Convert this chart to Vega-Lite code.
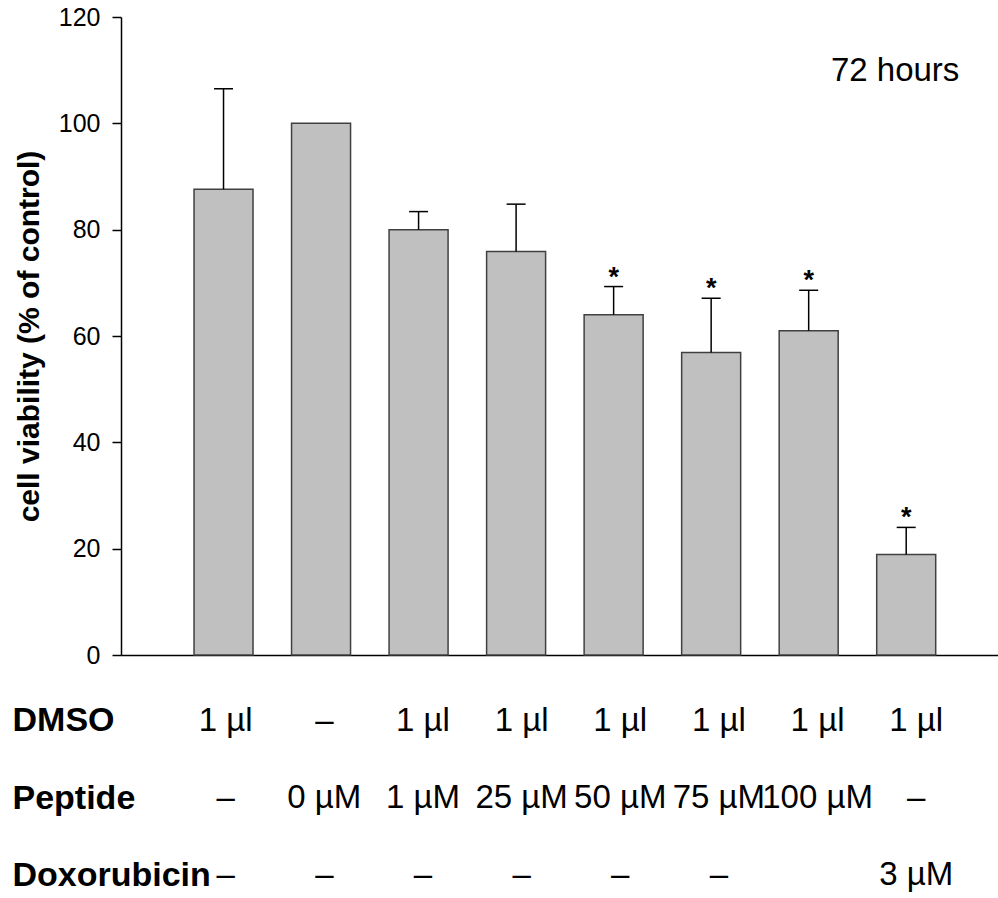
{
  "$schema": "https://vega.github.io/schema/vega-lite/v6.json",
  "padding": {"left": 12, "top": 5, "right": 0, "bottom": 5},
  "background": "white",
  "config": {
    "view": {"stroke": null},
    "font": "Liberation Sans",
    "text": {"font": "Liberation Sans", "color": "black"}
  },
  "datasets": {
    "bars": [
      {"pos": 1, "value": 87.6, "err": 106.5, "sig": false},
      {"pos": 2, "value": 100.0, "err": null, "sig": false},
      {"pos": 3, "value": 80.0, "err": 83.4, "sig": false},
      {"pos": 4, "value": 75.9, "err": 84.8, "sig": false},
      {"pos": 5, "value": 64.0, "err": 69.3, "sig": true},
      {"pos": 6, "value": 56.9, "err": 67.1, "sig": true},
      {"pos": 7, "value": 61.0, "err": 68.6, "sig": true},
      {"pos": 8, "value": 18.9, "err": 24.0, "sig": true}
    ],
    "table": [
      {"pos": 1, "row": "DMSO", "label": "1 µl"},
      {"pos": 2, "row": "DMSO", "label": "–"},
      {"pos": 3, "row": "DMSO", "label": "1 µl"},
      {"pos": 4, "row": "DMSO", "label": "1 µl"},
      {"pos": 5, "row": "DMSO", "label": "1 µl"},
      {"pos": 6, "row": "DMSO", "label": "1 µl"},
      {"pos": 7, "row": "DMSO", "label": "1 µl"},
      {"pos": 8, "row": "DMSO", "label": "1 µl"},
      {"pos": 1, "row": "Peptide", "label": "–"},
      {"pos": 2, "row": "Peptide", "label": "0 µM"},
      {"pos": 3, "row": "Peptide", "label": "1 µM"},
      {"pos": 4, "row": "Peptide", "label": "25 µM"},
      {"pos": 5, "row": "Peptide", "label": "50 µM"},
      {"pos": 6, "row": "Peptide", "label": "75 µM"},
      {"pos": 7, "row": "Peptide", "label": "100 µM"},
      {"pos": 8, "row": "Peptide", "label": "–"},
      {"pos": 1, "row": "Doxorubicin", "label": "–"},
      {"pos": 2, "row": "Doxorubicin", "label": "–"},
      {"pos": 3, "row": "Doxorubicin", "label": "–"},
      {"pos": 4, "row": "Doxorubicin", "label": "–"},
      {"pos": 5, "row": "Doxorubicin", "label": "–"},
      {"pos": 6, "row": "Doxorubicin", "label": "–"},
      {"pos": 8, "row": "Doxorubicin", "label": "3 µM"}
    ]
  },
  "vconcat": [
    {
      "width": 877,
      "height": 638,
      "layer": [
        {
          "data": {"name": "bars"},
          "mark": {"type": "bar", "width": 59, "fill": "#c0c0c0", "stroke": "#404040", "strokeWidth": 1.5},
          "encoding": {
            "x": {
              "field": "pos", "type": "quantitative",
              "scale": {"domain": [0, 8.89], "nice": false, "zero": false},
              "axis": {"domain": true, "domainColor": "black", "domainWidth": 1.5, "ticks": false, "labels": false, "grid": false, "title": null}
            },
            "y": {
              "field": "value", "type": "quantitative",
              "scale": {"domain": [0, 120], "nice": false},
              "axis": {
                "values": [0, 20, 40, 60, 80, 100, 120],
                "grid": false,
                "domainColor": "black", "domainWidth": 1.5,
                "tickColor": "black", "tickWidth": 1.5, "tickSize": 9,
                "labelFont": "Liberation Sans", "labelFontSize": 25, "labelColor": "black",
                "labelPadding": 12, "labelFlush": false, "labelOverlap": false,
                "title": "cell viability (% of control)",
                "titleFont": "Liberation Sans", "titleFontSize": 30, "titleFontWeight": "bold",
                "titleColor": "black", "titlePadding": 14
              }
            }
          }
        },
        {
          "data": {"name": "bars"},
          "transform": [{"filter": "datum.err != null"}],
          "mark": {"type": "rule", "color": "black", "strokeWidth": 1.5},
          "encoding": {
            "x": {"field": "pos", "type": "quantitative"},
            "y": {"field": "value", "type": "quantitative"},
            "y2": {"field": "err"}
          }
        },
        {
          "data": {"name": "bars"},
          "transform": [{"filter": "datum.err != null"}],
          "mark": {"type": "tick", "orient": "horizontal", "size": 19, "thickness": 1.5, "color": "black", "opacity": 1},
          "encoding": {
            "x": {"field": "pos", "type": "quantitative"},
            "y": {"field": "err", "type": "quantitative"}
          }
        },
        {
          "data": {"name": "bars"},
          "transform": [{"filter": "datum.sig"}],
          "mark": {"type": "text", "text": "*", "fontSize": 27, "fontWeight": "bold", "baseline": "alphabetic", "align": "center", "dy": -1, "color": "black"},
          "encoding": {
            "x": {"field": "pos", "type": "quantitative"},
            "y": {"field": "err", "type": "quantitative"}
          }
        },
        {
          "mark": {"type": "rule", "color": "black", "strokeWidth": 1.5},
          "encoding": {"y": {"datum": 120}}
        },
        {
          "data": {"values": [{"label": "72 hours"}]},
          "mark": {"type": "text", "fontSize": 33, "align": "right", "baseline": "alphabetic", "color": "black"},
          "encoding": {
            "x": {"datum": 8.545},
            "y": {"datum": 107.9},
            "text": {"field": "label"}
          }
        }
      ]
    },
    {
      "width": 877,
      "height": 232,
      "data": {"name": "table"},
      "mark": {"type": "text", "fontSize": 33, "dx": 6, "baseline": "middle", "align": "center", "color": "black"},
      "encoding": {
        "x": {"field": "pos", "type": "quantitative", "scale": {"domain": [0, 8.89], "nice": false, "zero": false}, "axis": null},
        "y": {
          "field": "row", "type": "nominal",
          "sort": ["DMSO", "Peptide", "Doxorubicin"],
          "axis": {
            "title": null, "domain": false, "ticks": false, "tickSize": 0,
            "labelAlign": "left", "labelPadding": 109, "labelLimit": 0,
            "labelFont": "Liberation Sans", "labelFontSize": 34, "labelFontWeight": "bold", "labelColor": "black"
          }
        },
        "text": {"field": "label"}
      }
    }
  ],
  "spacing": 14
}
